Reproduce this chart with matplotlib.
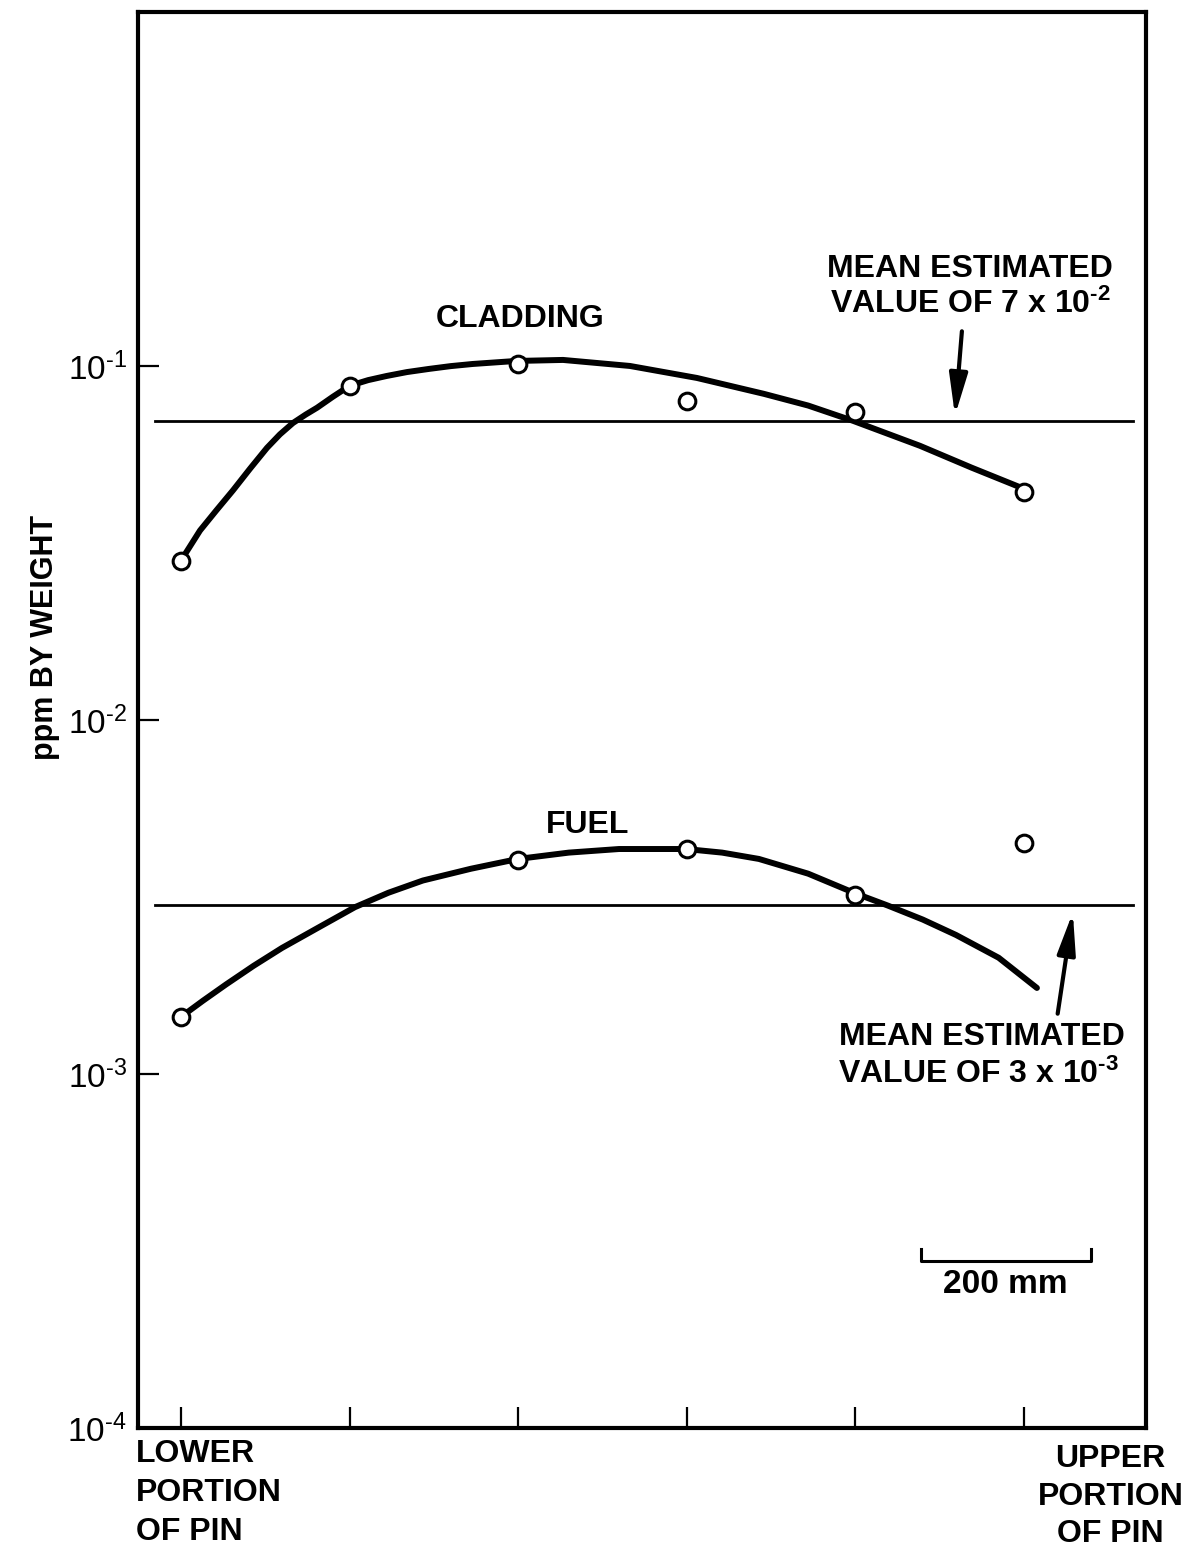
import matplotlib
matplotlib.use("Agg")
import matplotlib.pyplot as plt
from matplotlib.ticker import FixedLocator, NullLocator

plt.rcParams['font.family'] = ['Liberation Sans', 'DejaVu Sans']
plt.rcParams['mathtext.fontset'] = 'custom'
plt.rcParams['mathtext.rm'] = 'Liberation Sans'
plt.rcParams['mathtext.bf'] = 'Liberation Sans:bold'

# ---- data ----
positions = [0, 1, 2, 3, 4, 5]          # sample positions along the pin (200 mm spacing)

clad_x = [0, 1, 2, 3, 4, 5]
clad_ppm = [0.0282, 0.0879, 0.1013, 0.0796, 0.0741, 0.0441]

fuel_x = [0, 2, 3, 4, 5]
fuel_ppm = [0.00145, 0.00403, 0.00432, 0.00321, 0.00450]

clad_curve_x = [0.0, 0.113, 0.21, 0.308, 0.41, 0.51, 0.587, 0.664, 0.74, 0.807, 0.9,
                1.0, 1.11, 1.22, 1.34, 1.471, 1.6, 1.73, 1.987, 2.266, 2.663, 3.06,
                3.458, 3.72, 3.986, 4.383, 4.69, 4.994]
clad_curve_ppm = [0.0282, 0.0343, 0.0391, 0.0445, 0.0513, 0.0587, 0.0641, 0.0690,
                  0.0729, 0.0762, 0.0818, 0.0879, 0.0912, 0.0937, 0.0961, 0.0981,
                  0.0999, 0.1013, 0.1033, 0.1040, 0.1000, 0.0925, 0.0834, 0.0773,
                  0.0700, 0.0595, 0.0516, 0.0451]

fuel_curve_x = [0.0, 0.13, 0.267, 0.43, 0.599, 0.82, 1.032, 1.23, 1.435, 1.72, 1.999,
                2.30, 2.598, 2.995, 3.21, 3.428, 3.72, 3.998, 4.193, 4.40, 4.597,
                4.85, 5.077]
fuel_curve_ppm = [0.00145, 0.00161, 0.00179, 0.00202, 0.00227, 0.00260, 0.00296,
                  0.00325, 0.00352, 0.00380, 0.00405, 0.00422, 0.00432, 0.00432,
                  0.00422, 0.00405, 0.00368, 0.00324, 0.00299, 0.00273, 0.00247,
                  0.00213, 0.00175]

clad_mean = 7e-2
fuel_mean = 3e-3
mean_x_span = [-0.154, 5.646]

y_ticks = [1e-4, 1e-3, 1e-2, 1e-1]
y_tick_labels = ['$\\mathregular{10^{\u20104}}$', '$\\mathregular{10^{\u20103}}$',
                 '$\\mathregular{10^{\u20102}}$', '$\\mathregular{10^{\u20101}}$']

# ---- figure ----
fig = plt.figure(figsize=(12, 15.52), dpi=100)
ax = fig.add_axes([0.115, 0.0799, 0.84, 0.9124])
ax.set_yscale('log')
ax.set_xlim(-0.255, 5.724)
ax.set_ylim(1e-4, 1.0)

for s in ax.spines.values():
    s.set_linewidth(3)

ax.xaxis.set_major_locator(FixedLocator(positions))
ax.set_xticklabels([])
ax.yaxis.set_major_locator(FixedLocator(y_ticks))
ax.yaxis.set_minor_locator(NullLocator())
ax.set_yticklabels(y_tick_labels)
ax.tick_params(axis='both', which='major', direction='in', length=15, width=1.6,
               labelsize=24, pad=8)
ax.tick_params(axis='x', top=False)
ax.tick_params(axis='y', right=False)

# mean lines
ax.plot(mean_x_span, [clad_mean, clad_mean], color='black', lw=2.0, zorder=2)
ax.plot(mean_x_span, [fuel_mean, fuel_mean], color='black', lw=2.0, zorder=2)

# curves
ax.plot(clad_curve_x, clad_curve_ppm, color='black', lw=4.3, solid_capstyle='round',
        solid_joinstyle='round', zorder=3)
ax.plot(fuel_curve_x, fuel_curve_ppm, color='black', lw=4.3, solid_capstyle='round',
        solid_joinstyle='round', zorder=3)

# data points
ax.plot(clad_x, clad_ppm, 'o', ms=12, mfc='white', mec='black', mew=2.2, zorder=4)
ax.plot(fuel_x, fuel_ppm, 'o', ms=12, mfc='white', mec='black', mew=2.2, zorder=4)

tfs = 23
ax.text(2.01, 0.1357, 'CLADDING', ha='center', va='center', fontsize=tfs, fontweight='bold')
ax.text(2.41, 0.00506, 'FUEL', ha='center', va='center', fontsize=tfs, fontweight='bold')

ax.text(4.68, 0.1876, 'MEAN ESTIMATED', ha='center', va='center', fontsize=tfs,
        fontweight='bold')
ax.text(4.68, 0.1495, 'VALUE OF 7 x 10$\\mathbf{^{\u20102}}$', ha='center', va='center',
        fontsize=tfs, fontweight='bold')
ax.annotate('', xy=(4.591, 0.0724), xytext=(4.632, 0.1253),
            arrowprops=dict(arrowstyle='-|>,head_length=2.5,head_width=0.55',
                            color='black', lw=3, shrinkA=0, shrinkB=0))

ax.text(4.75, 0.00127, 'MEAN ESTIMATED', ha='center', va='center', fontsize=tfs,
        fontweight='bold')
ax.text(4.73, 0.00100, 'VALUE OF 3 x 10$\\mathbf{^{\u20103}}$', ha='center', va='center',
        fontsize=tfs, fontweight='bold')
ax.annotate('', xy=(5.29, 0.00286), xytext=(5.20, 0.00148),
            arrowprops=dict(arrowstyle='-|>,head_length=2.5,head_width=0.55',
                            color='black', lw=3, shrinkA=0, shrinkB=0))

# scale bar (one position step = 200 mm)
ax.plot([4.39, 4.39, 5.40, 5.40], [0.000321, 0.000297, 0.000297, 0.000321],
        color='black', lw=2.2)
ax.text(4.89, 0.000254, '200 mm', ha='center', va='center', fontsize=24, fontweight='bold')

# labels
fig.text(0.0375, 0.5896, 'ppm BY WEIGHT', rotation=90, ha='center', va='center',
         fontsize=22, fontweight='bold')
fig.text(0.113, 1 - 1439 / 1552, 'LOWER\nPORTION\nOF PIN', ha='left', va='top',
         fontsize=tfs, fontweight='bold', linespacing=1.4)
fig.text(0.9255, 1 - 1444 / 1552, 'UPPER\nPORTION\nOF PIN', ha='center', va='top',
         fontsize=tfs, fontweight='bold', linespacing=1.33, multialignment='center')

fig.savefig('out.png', dpi=100, facecolor='white')
